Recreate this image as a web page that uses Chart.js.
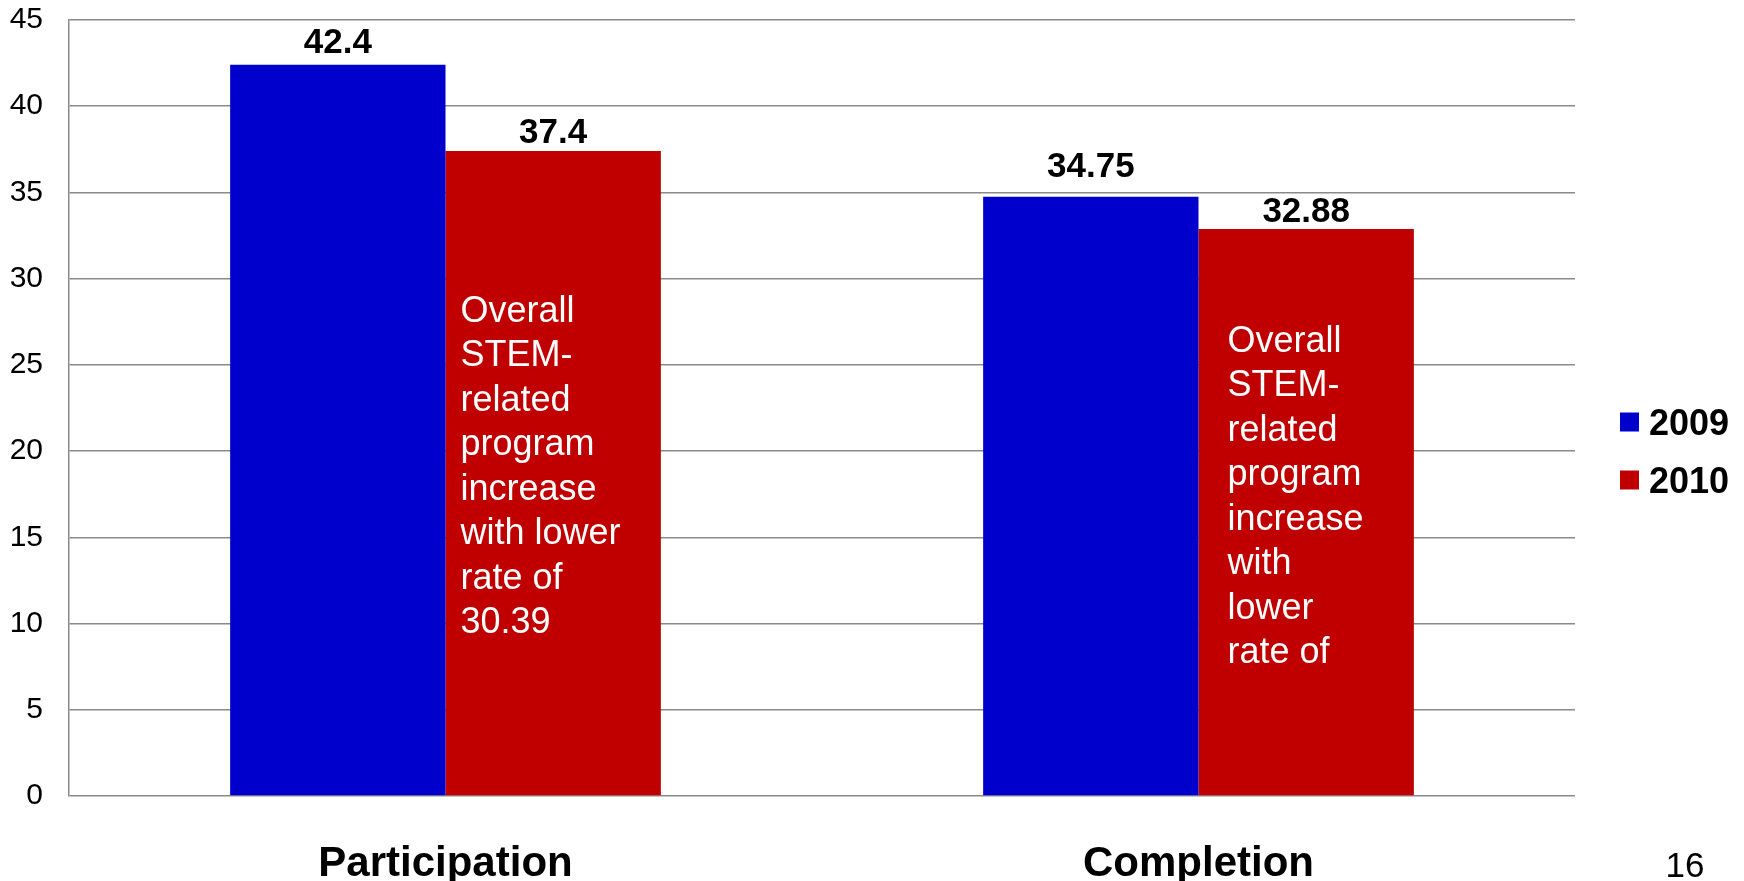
<!DOCTYPE html>
<html lang="en">
<head>
    <meta charset="UTF-8">
    <title>STEM Participation and Completion</title>
    <script src="https://cdn.jsdelivr.net/npm/chart.js"></script>
    <style>
        html, body { margin: 0; padding: 0; background: #fff; }
        canvas { display: block; }
    </style>
</head>
<body>
    <canvas id="chart" width="1744" height="881"></canvas>
    <script>
        // data
        const categories = ['Participation', 'Completion'];
        const seriesNames = ['2009', '2010'];
        const values2009 = [42.4, 34.75];
        const values2010 = [37.4, 32.88];
        const yTicks = { min: 0, max: 45, step: 5 };
        const noteLines = [
            ['Overall', 'STEM-', 'related', 'program', 'increase', 'with lower', 'rate of', '30.39'],
            ['Overall', 'STEM-', 'related', 'program', 'increase', 'with', 'lower', 'rate of']
        ];
        const pageNumber = '16';

        const colors = ['#0000CC', '#C00000'];
        const gridColor = '#8a8a8a';
        const FONT = '"Liberation Sans", Arial, sans-serif';

        // small hand placement of the value labels and the notes (px / axis units)
        const labelLift = [[12, 20], [8, 7]];   // [series][category]
        const noteAt = [{ inset: 15, value: 27.5 }, { inset: 29, value: 25.75 }];

        const valueLabels = {
            id: 'valueLabels',
            afterDatasetsDraw(chart) {
                const ctx = chart.ctx;
                ctx.save();
                ctx.fillStyle = '#000';
                ctx.font = 'bold 35px ' + FONT;
                ctx.textAlign = 'center';
                ctx.textBaseline = 'alphabetic';
                chart.data.datasets.forEach((ds, d) => {
                    chart.getDatasetMeta(d).data.forEach((bar, i) => {
                        ctx.fillText(String(ds.data[i]), bar.x, bar.y - labelLift[d][i]);
                    });
                });

                // white notes inside the 2010 bars
                const meta = chart.getDatasetMeta(1);
                const y = chart.scales.y;
                ctx.fillStyle = '#fff';
                ctx.font = '36px ' + FONT;
                ctx.textAlign = 'left';
                meta.data.forEach((bar, i) => {
                    const x0 = bar.x - bar.width / 2 + noteAt[i].inset;
                    let yy = y.getPixelForValue(noteAt[i].value);
                    noteLines[i].forEach(line => {
                        ctx.fillText(line, x0, yy);
                        yy += 44.5;
                    });
                });
                ctx.restore();
            },
            afterDraw(chart) {
                const ctx = chart.ctx;
                const area = chart.chartArea;
                ctx.save();
                // legend on the right
                ctx.font = 'bold 36px ' + FONT;
                ctx.textBaseline = 'alphabetic';
                ctx.textAlign = 'left';
                chart.data.datasets.forEach((ds, d) => {
                    const cy = 422 + d * 58;
                    ctx.fillStyle = ds.backgroundColor;
                    ctx.fillRect(area.right + 45, cy - 9.5, 19, 19);
                    ctx.fillStyle = '#000';
                    ctx.fillText(ds.label, area.right + 74, cy + 13);
                });
                // slide number
                ctx.font = '35px ' + FONT;
                ctx.textAlign = 'center';
                ctx.fillText(pageNumber, 1685, 877);
                ctx.restore();
            }
        };

        new Chart(document.getElementById('chart'), {
            type: 'bar',
            data: {
                labels: categories,
                datasets: [
                    { label: seriesNames[0], data: values2009, backgroundColor: colors[0] },
                    { label: seriesNames[1], data: values2010, backgroundColor: colors[1] }
                ]
            },
            options: {
                responsive: false,
                animation: false,
                devicePixelRatio: 1,
                layout: { padding: { left: 0, right: 169, top: 0, bottom: 0 } },
                datasets: { bar: { barPercentage: 1, categoryPercentage: 0.572 } },
                plugins: {
                    legend: { display: false },
                    tooltip: { enabled: false }
                },
                scales: {
                    x: {
                        grid: { display: false },
                        border: { display: false },
                        ticks: {
                            color: '#000',
                            padding: 35,
                            font: { family: FONT, size: 42, weight: 'bold' }
                        },
                        afterFit(scale) { scale.height = 85; }
                    },
                    y: {
                        min: yTicks.min,
                        max: yTicks.max,
                        ticks: {
                            stepSize: yTicks.step,
                            color: '#000',
                            padding: 26,
                            font: { family: FONT, size: 30 }
                        },
                        grid: { color: gridColor, lineWidth: 1.5, drawTicks: false },
                        border: { display: true, color: gridColor, width: 1.5 },
                        afterFit(scale) {
                            scale.width = 69;
                            scale.paddingTop = 20;
                            scale.paddingBottom = 0;
                        }
                    }
                }
            },
            plugins: [valueLabels]
        });
    </script>
</body>
</html>
